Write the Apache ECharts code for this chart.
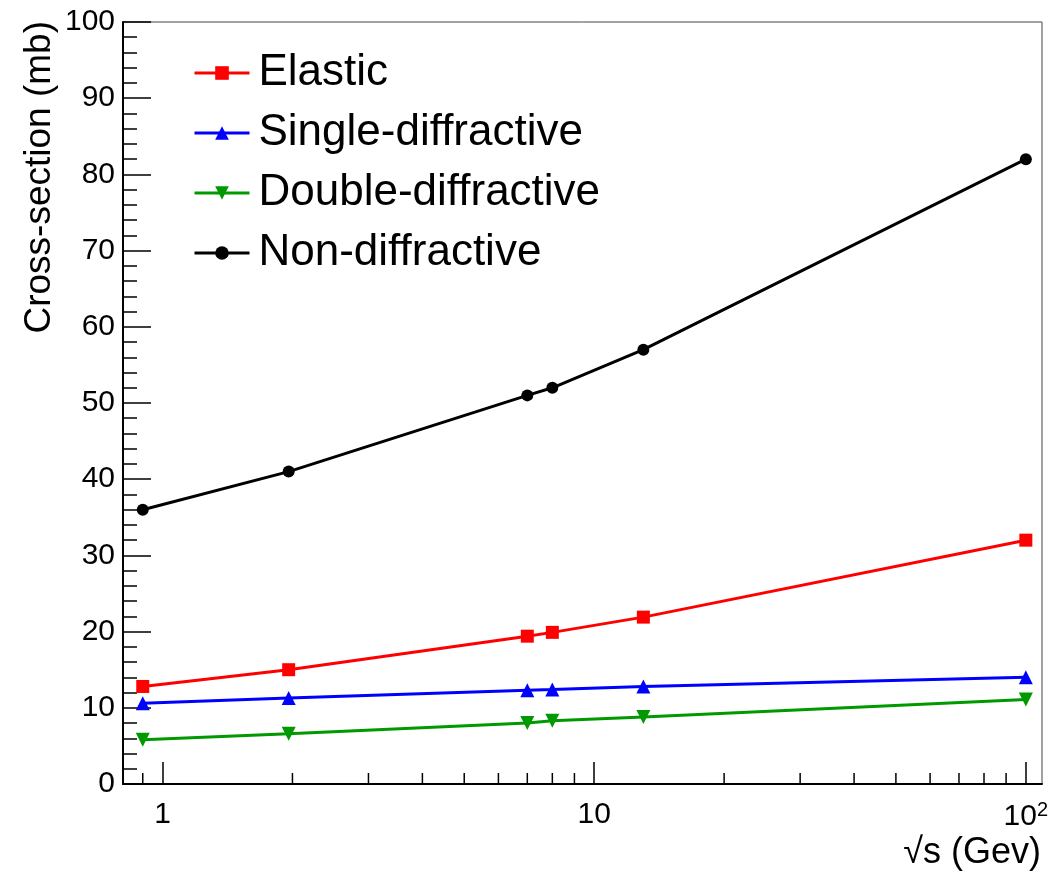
<!DOCTYPE html>
<html>
<head>
<meta charset="utf-8">
<script src="https://cdn.jsdelivr.net/npm/echarts@6/dist/echarts.min.js"></script>
<style>
  html, body { margin: 0; background: #fff; }
  #root { width: 1050px; height: 871px; }
</style>
</head>
<body>
<div id="root"></div>
<script>
// sqrt(s) points and cross-sections (mb)
const sqrtS = [0.9, 1.96, 7, 8, 13, 100];
const elastic = [12.8, 15.0, 19.4, 19.9, 21.9, 32.0];
const singleDiff = [10.6, 11.3, 12.3, 12.4, 12.8, 14.0];
const doubleDiff = [5.8, 6.6, 8.0, 8.3, 8.8, 11.1];
const nonDiff = [36, 41, 51, 52, 57, 82];
const minorX = [0.9, 2, 3, 4, 5, 6, 7, 8, 9, 20, 30, 40, 50, 60, 70, 80, 90];

const FONT = "Liberation Sans";
const chart = echarts.init(document.getElementById("root"));

function lineSeries(name, values, color, symbol, size, rotate) {
  return {
    type: "line",
    name: name,
    data: sqrtS.map((x, i) => [x, values[i]]),
    symbol: symbol,
    symbolSize: size,
    symbolRotate: rotate || 0,
    showAllSymbol: true,
    lineStyle: { color: color, width: 3 },
    itemStyle: { color: color },
    emphasis: { disabled: true },
  };
}

chart.setOption({
  animation: false,
  backgroundColor: "#fff",
  textStyle: { fontFamily: FONT },
  grid: {
    left: 123, top: 22, right: 8, bottom: 87,
    show: true, borderColor: "#444", borderWidth: 1,
    outerBoundsMode: "none",
  },
  legend: {
    orient: "vertical",
    left: 193, top: 51,
    padding: 0,
    itemWidth: 55, itemHeight: 17, itemGap: 16,
    lineStyle: { width: 3 },
    textStyle: { fontSize: 44, lineHeight: 43, color: "#000", fontFamily: FONT, padding: [0, 0, 0, 4] },
    data: ["Elastic", "Single-diffractive", "Double-diffractive", "Non-diffractive"],
  },
  xAxis: {
    type: "log",
    logBase: 10,
    min: 0.81, max: 109,
    axisLine: { lineStyle: { color: "#000", width: 2 } },
    axisTick: { inside: true, length: 22, lineStyle: { color: "#000", width: 1.5 } },
    splitLine: { show: false },
    axisLabel: {
      fontSize: 30, color: "#000", margin: 16,
      showMinLabel: false, showMaxLabel: false,
      formatter: function (v) {
        const r = Math.round(v);
        return r === 100 ? "{b|10}{sup|2}" : String(r);
      },
      rich: {
        b: { fontSize: 30, color: "#000", lineHeight: 34 },
        sup: { fontSize: 20, color: "#000", verticalAlign: "top" },
      },
    },
  },
  yAxis: {
    type: "value",
    min: 0, max: 100, interval: 10,
    axisLine: { show: true, lineStyle: { color: "#000", width: 2 } },
    axisTick: { inside: true, length: 28, lineStyle: { color: "#000", width: 1.5 } },
    minorTick: { show: true, splitNumber: 5, length: 14, lineStyle: { color: "#000", width: 1.5 } },
    splitLine: { show: false },
    axisLabel: { fontSize: 30, color: "#000", margin: 8 },
  },
  series: [
    lineSeries("Elastic", elastic, "#ff0000", "rect", 13),
    lineSeries("Single-diffractive", singleDiff, "#0000ff", "triangle", 14),
    lineSeries("Double-diffractive", doubleDiff, "#009900", "triangle", 14, 180),
    lineSeries("Non-diffractive", nonDiff, "#000000", "circle", 12),
  ],
});

// axis titles + ROOT-style minor ticks on the log axis (2..9 per decade)
const yBottom = chart.convertToPixel({ yAxisIndex: 0 }, 0);
const graphics = [
  {
    type: "text", id: "ytitle",
    x: 40, y: 21,
    rotation: Math.PI / 2,
    style: { text: "Cross-section (mb)", fontSize: 37, fontFamily: FONT, fill: "#000", align: "right", verticalAlign: "middle" },
  },
  {
    type: "text", id: "xtitle",
    x: 1041, y: 853,
    style: { text: "√s (Gev)", fontSize: 36, fontFamily: FONT, fill: "#000", align: "right", verticalAlign: "middle" },
  },
];
minorX.forEach(function (v, i) {
  const px = chart.convertToPixel({ xAxisIndex: 0 }, v);
  graphics.push({
    type: "line", id: "mt" + i,
    silent: true,
    shape: { x1: px, y1: yBottom, x2: px, y2: yBottom - 11 },
    style: { stroke: "#000", lineWidth: 1.5 },
  });
});
chart.setOption({ graphic: graphics });
</script>
</body>
</html>
